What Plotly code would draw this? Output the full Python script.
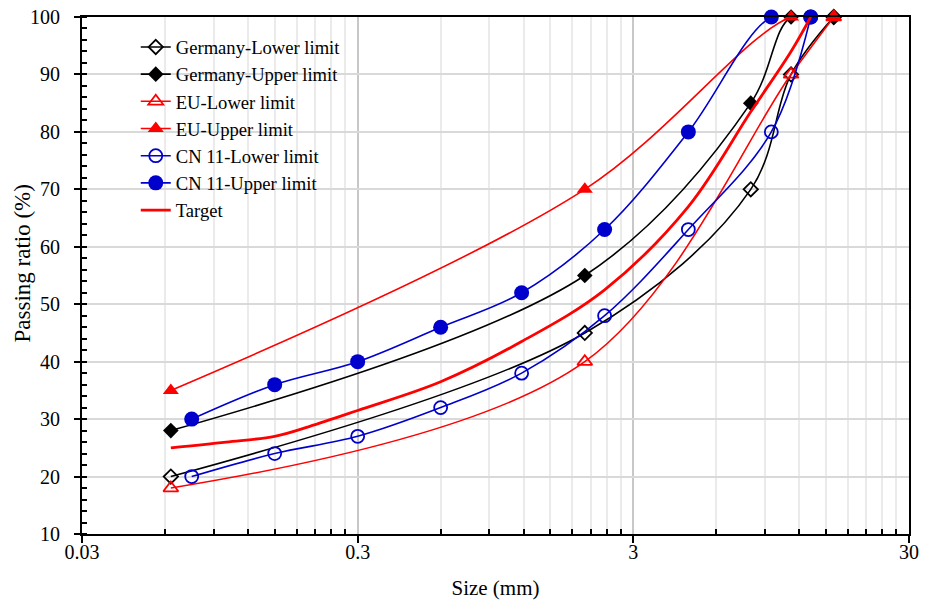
import numpy as np
import plotly.graph_objects as go

# ---- data ----
germany_sizes = [0.063, 2, 8, 11.2, 16]
germany_lower = [20, 45, 70, 90, 100]
germany_upper = [28, 55, 85, 100, 100]

eu_sizes = [0.063, 2, 11.2, 16]
eu_lower = [18, 40, 90, 100]
eu_upper = [35, 70, 100, 100]

cn_sizes = [0.075, 0.15, 0.3, 0.6, 1.18, 2.36, 4.75, 9.5, 13.2]
cn_lower = [20, 24, 27, 32, 38, 48, 63, 80, 100]
cn_upper = [30, 36, 40, 46, 52, 63, 80, 100, 100]

target_sizes = [0.063, 0.1, 0.15, 0.2, 0.3, 0.6, 1.18, 2.36, 4.75, 8, 11.2, 13.2]
target_values = [25, 26, 27, 28.7, 31.5, 36.5, 43.5, 52.5, 67, 83.5, 94, 100]

x_tickvals = [0.03, 0.3, 3, 30]
x_ticktext = ["0.03", "0.3", "3", "30"]
x_minorvals = [m * d for d in (0.03, 0.3, 3) for m in range(2, 10)]

FONT = "Liberation Serif"
BLACK = "#000000"
RED = "#FF0000"
BLUE = "#0000CC"

fig = go.Figure()

def add(name, xs, ys, color, symbol, size, width=1.6, open_marker=False):
    marker = dict(symbol=symbol, size=size, color=color)
    if open_marker:
        marker = dict(symbol=symbol + "-open", size=size, color=color,
                      line=dict(color=color, width=1.8))
    fig.add_trace(go.Scatter(
        x=xs, y=ys, name=name, mode="lines+markers",
        line=dict(color=color, width=width, shape="spline", smoothing=1),
        marker=marker, cliponaxis=False))

add("Germany-Lower limit", germany_sizes, germany_lower, BLACK, "diamond", 11, open_marker=True)
add("Germany-Upper limit", germany_sizes, germany_upper, BLACK, "diamond", 12)
add("EU-Lower limit", eu_sizes, eu_lower, RED, "triangle-up", 13, open_marker=True)
add("EU-Upper limit", eu_sizes, eu_upper, RED, "triangle-up", 14)
add("CN 11-Lower limit", cn_sizes, cn_lower, BLUE, "circle", 13, open_marker=True)
add("CN 11-Upper limit", cn_sizes, cn_upper, BLUE, "circle", 15)
fig.add_trace(go.Scatter(
    x=target_sizes, y=target_values, name="Target", mode="lines",
    line=dict(color=RED, width=2.8, shape="spline", smoothing=1)))

fig.update_layout(
    width=926, height=601,
    margin=dict(l=82, r=17, t=17, b=67, autoexpand=False),
    paper_bgcolor="white", plot_bgcolor="white",
    font=dict(family=FONT, size=20, color=BLACK),
    showlegend=True,
    legend=dict(x=0.065, y=0.978, xanchor="left", yanchor="top",
                bgcolor="rgba(0,0,0,0)", borderwidth=0,
                font=dict(family=FONT, size=18.6, color=BLACK),
                tracegroupgap=0),
    annotations=[dict(text="Passing ratio (%)", textangle=-90,
                      xref="paper", yref="paper", x=0, y=0.5,
                      xanchor="center", yanchor="middle",
                      xshift=-60, yshift=12, showarrow=False,
                      font=dict(family=FONT, size=23, color=BLACK))],
)

fig.update_xaxes(
    type="log", range=[np.log10(0.03), np.log10(30)], automargin=False,
    tickmode="array", tickvals=x_tickvals, ticktext=x_ticktext,
    ticks="outside", ticklen=7, tickwidth=1.5, tickcolor=BLACK,
    showline=True, linecolor=BLACK, linewidth=2, mirror=True,
    showgrid=True, gridcolor="#C8C8C8", gridwidth=1.5,
    ticklabelstandoff=-8, ticklabeloverflow="allow",
    minor=dict(tickmode="array", tickvals=x_minorvals, ticks="inside",
               ticklen=5, tickwidth=1.5, tickcolor=BLACK,
               showgrid=True, gridcolor="#EBEBEB", gridwidth=1.5),
    title=dict(text="Size (mm)", font=dict(family=FONT, size=21), standoff=18),
    tickfont=dict(family=FONT, size=20),
    zeroline=False,
)
fig.update_yaxes(
    range=[10, 100], tickmode="linear", tick0=10, dtick=10, automargin=False,
    ticks="outside", ticklen=6, tickwidth=1.5, tickcolor=BLACK,
    showline=True, linecolor=BLACK, linewidth=2, mirror=True,
    showgrid=True, gridcolor="#D9D9D9", gridwidth=1.5,
    ticklabelstandoff=10, ticklabeloverflow="allow",
    minor=dict(dtick=2, tick0=10, ticks="inside", ticklen=5, tickwidth=1.5,
               tickcolor=BLACK, showgrid=False),
    tickfont=dict(family=FONT, size=20),
    zeroline=False,
)

# remove the browser's default 8px body margin so the figure fills the window exactly
fig.write_html("out.html", config={"displayModeBar": False},
               post_script="document.body.style.margin='0';")
